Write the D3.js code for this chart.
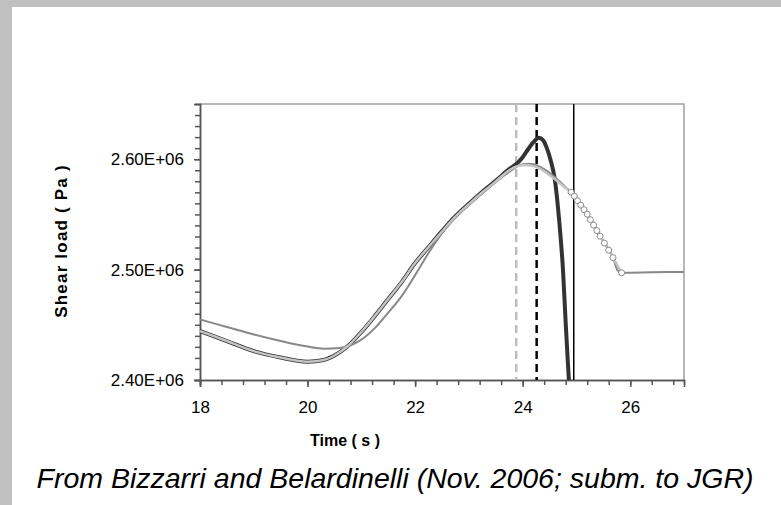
<!DOCTYPE html>
<html>
<head>
<meta charset="utf-8">
<script src="https://cdn.jsdelivr.net/npm/d3@7/dist/d3.min.js"></script>
<style>
    body { margin: 0; background: #c0c0c0; }
    svg { display: block; }
</style>
</head>
<body>
<svg id="chart" width="781" height="505"></svg>
<script>
// time (s) and shear load (Pa)
const timeA = [18, 18.5, 19, 19.5, 20, 20.3, 20.5, 20.75, 21, 21.25, 21.5, 21.75, 22, 22.25, 22.5, 22.75, 23, 23.25, 23.5, 23.75, 23.9, 24, 24.1, 24.2, 24.3, 24.38, 24.45, 24.52, 24.6, 24.68, 24.75, 24.8, 24.84, 24.87];
const loadA = [2.4443e6, 2.4353e6, 2.4262e6, 2.4204e6, 2.4166e6, 2.4181e6, 2.4222e6, 2.4308e6, 2.4434e6, 2.4579e6, 2.4733e6, 2.4887e6, 2.5059e6, 2.5204e6, 2.5348e6, 2.5484e6, 2.5597e6, 2.5706e6, 2.5805e6, 2.5910e6, 2.5964e6, 2.6018e6, 2.6090e6, 2.6154e6, 2.6195e6, 2.6172e6, 2.6100e6, 2.5991e6, 2.5810e6, 2.5439e6, 2.4995e6, 2.4516e6, 2.4163e6, 2.3910e6];

const timeB = [18, 18.5, 19, 19.5, 20, 20.3, 20.5, 20.75, 21, 21.25, 21.5, 21.75, 22, 22.25, 22.5, 22.75, 23, 23.25, 23.5, 23.75, 23.9, 24, 24.1, 24.2, 24.3, 24.4, 24.5, 24.6, 24.7, 24.8];
const loadB = [2.4443e6, 2.4353e6, 2.4262e6, 2.4204e6, 2.4166e6, 2.4181e6, 2.4222e6, 2.4308e6, 2.4434e6, 2.4579e6, 2.4733e6, 2.4887e6, 2.5059e6, 2.5204e6, 2.5345e6, 2.5480e6, 2.5592e6, 2.5700e6, 2.5798e6, 2.5900e6, 2.5937e6, 2.5946e6, 2.5946e6, 2.5937e6, 2.5919e6, 2.5891e6, 2.5855e6, 2.5819e6, 2.5778e6, 2.5738e6];
// sampled points of the same run, drawn with circles
const timeBDots = [24.9, 24.96, 25.02, 25.08, 25.14, 25.2, 25.26, 25.32, 25.38, 25.44, 25.52, 25.6, 25.68, 25.84];
const loadBDots = [2.5701e6, 2.5665e6, 2.5624e6, 2.5584e6, 2.5543e6, 2.5502e6, 2.5452e6, 2.5403e6, 2.5353e6, 2.5303e6, 2.5240e6, 2.5176e6, 2.5109e6, 2.4971e6];

const timeC = [18, 18.5, 19, 19.5, 20, 20.3, 20.6, 20.8, 21, 21.25, 21.5, 21.75, 22, 22.25, 22.5, 22.75, 23, 23.25, 23.5, 23.75, 24, 24.1, 24.2, 24.4, 24.6, 24.8, 25, 25.2, 25.4, 25.6, 25.68, 25.72, 25.76, 25.84, 26.4, 27];
const loadC = [2.4548e6, 2.4480e6, 2.4412e6, 2.4353e6, 2.4303e6, 2.4284e6, 2.4290e6, 2.4315e6, 2.4365e6, 2.4470e6, 2.4610e6, 2.4760e6, 2.4950e6, 2.5150e6, 2.5330e6, 2.5475e6, 2.5588e6, 2.5692e6, 2.5795e6, 2.5885e6, 2.5955e6, 2.5959e6, 2.5955e6, 2.5910e6, 2.5837e6, 2.5747e6, 2.5647e6, 2.5511e6, 2.5339e6, 2.5186e6, 2.5113e6, 2.5050e6, 2.4995e6, 2.4971e6, 2.4975e6, 2.4979e6];

// vertical time markers
const markerTimes = [23.88, 24.26, 24.95];

const xTickValues = [18, 20, 22, 24, 26];
const yTickValues = [2.40e6, 2.50e6, 2.60e6];

const svg = d3.select('#chart');
const font = 'Arial, "Liberation Sans", sans-serif';

svg.append('rect')
    .attr('x', 12)
    .attr('y', 7)
    .attr('width', 781 - 12)
    .attr('height', 505 - 7)
    .attr('fill', '#fff');

const x = d3.scaleLinear().domain([18, 27]).range([200, 684]);
const y = d3.scaleLinear().domain([2.40e6, 2.65e6]).range([380, 104]);

svg.append('clipPath')
    .attr('id', 'plotClip')
    .append('rect')
        .attr('x', 200)
        .attr('y', 104)
        .attr('width', 484)
        .attr('height', 276);

// frame
svg.append('path')
    .attr('d', 'M' + x(18) + ',' + y(2.65e6) + 'H' + x(27) + 'V' + y(2.40e6))
    .attr('fill', 'none')
    .attr('stroke', '#a0a0a0')
    .attr('stroke-width', 1.5);

// axes
const xMinor = d3.range(0, 23).map(i => 18 + i * 0.4);
const yMinor = d3.range(0, 26).map(i => 2.40e6 + i * 0.01e6);

const xAxisMinor = svg.append('g')
    .attr('transform', 'translate(0,' + y(2.40e6) + ')')
    .call(d3.axisBottom(x).tickValues(xMinor).tickSize(5).tickFormat(''));

const xAxis = svg.append('g')
    .attr('transform', 'translate(0,' + y(2.40e6) + ')')
    .call(d3.axisBottom(x).tickValues(xTickValues).tickSize(7).tickPadding(14).tickFormat(d3.format('d')));

const yAxisMinor = svg.append('g')
    .attr('transform', 'translate(' + x(18) + ',0)')
    .call(d3.axisLeft(y).tickValues(yMinor).tickSize(5).tickFormat(''));

const yAxis = svg.append('g')
    .attr('transform', 'translate(' + x(18) + ',0)')
    .call(d3.axisLeft(y).tickValues(yTickValues).tickSize(6).tickPadding(10)
        .tickFormat(d => (d / 1e6).toFixed(2) + 'E+06'));

[xAxisMinor, xAxis, yAxisMinor, yAxis].forEach(function(g) {
    g.selectAll('.domain')
        .attr('stroke', '#555')
        .attr('stroke-width', 1.5);
    g.selectAll('line')
        .attr('stroke', '#555')
        .attr('stroke-width', 1.5);
    g.selectAll('text')
        .attr('fill', '#000')
        .style('font-family', font)
        .style('font-size', '17px');
});

// vertical markers
const markerStyles = [
    { color: '#bdbdbd', width: 2.5, dash: '8,5' },
    { color: '#000', width: 2.5, dash: '8,5' },
    { color: '#000', width: 1.5, dash: null }
];

svg.selectAll('.marker')
    .data(markerTimes).enter()
    .append('line')
        .attr('class', 'marker')
        .attr('x1', d => x(d))
        .attr('x2', d => x(d))
        .attr('y1', y(2.65e6))
        .attr('y2', y(2.40e6))
        .attr('stroke', (d, i) => markerStyles[i].color)
        .attr('stroke-width', (d, i) => markerStyles[i].width)
        .attr('stroke-dasharray', (d, i) => markerStyles[i].dash);

const line = d3.line()
    .x(d => x(d[0]))
    .y(d => y(d[1]))
    .curve(d3.curveMonotoneX);

const plot = svg.append('g').attr('clip-path', 'url(#plotClip)');

const seriesA = timeA.map((t, i) => [t, loadA[i]]);
const seriesB = timeB.map((t, i) => [t, loadB[i]]).concat(timeBDots.map((t, i) => [t, loadBDots[i]]));
const seriesC = timeC.map((t, i) => [t, loadC[i]]);
const dotsB = timeBDots.map((t, i) => [t, loadBDots[i]]);

plot.append('path')
    .datum(seriesA)
    .attr('d', line)
    .attr('fill', 'none')
    .attr('stroke', '#333')
    .attr('stroke-width', 4);

plot.append('path')
    .datum(seriesC)
    .attr('d', line)
    .attr('fill', 'none')
    .attr('stroke', '#888')
    .attr('stroke-width', 2);

plot.append('path')
    .datum(seriesB)
    .attr('d', line)
    .attr('fill', 'none')
    .attr('stroke', '#c4c4c4')
    .attr('stroke-width', 2.5);

plot.selectAll('.dot')
    .data(dotsB).enter()
    .append('circle')
        .attr('class', 'dot')
        .attr('cx', d => x(d[0]))
        .attr('cy', d => y(d[1]))
        .attr('r', 3)
        .attr('fill', '#fff')
        .attr('stroke', '#8c8c8c')
        .attr('stroke-width', 1);

// labels
svg.append('text')
    .attr('transform', 'translate(67,241) rotate(-90)')
    .attr('text-anchor', 'middle')
    .style('font-family', font)
    .style('font-size', '17px')
    .style('font-weight', 'bold')
    .style('letter-spacing', '1.2px')
    .text('Shear load ( Pa )');

svg.append('text')
    .attr('x', 345)
    .attr('y', 446)
    .attr('text-anchor', 'middle')
    .style('font-family', font)
    .style('font-size', '16px')
    .style('font-weight', 'bold')
    .text('Time ( s )');

svg.append('text')
    .attr('x', 395)
    .attr('y', 488)
    .attr('text-anchor', 'middle')
    .style('font-family', font)
    .style('font-size', '28.5px')
    .style('font-style', 'italic')
    .text('From Bizzarri and Belardinelli (Nov. 2006; subm. to JGR)');
</script>
</body>
</html>
